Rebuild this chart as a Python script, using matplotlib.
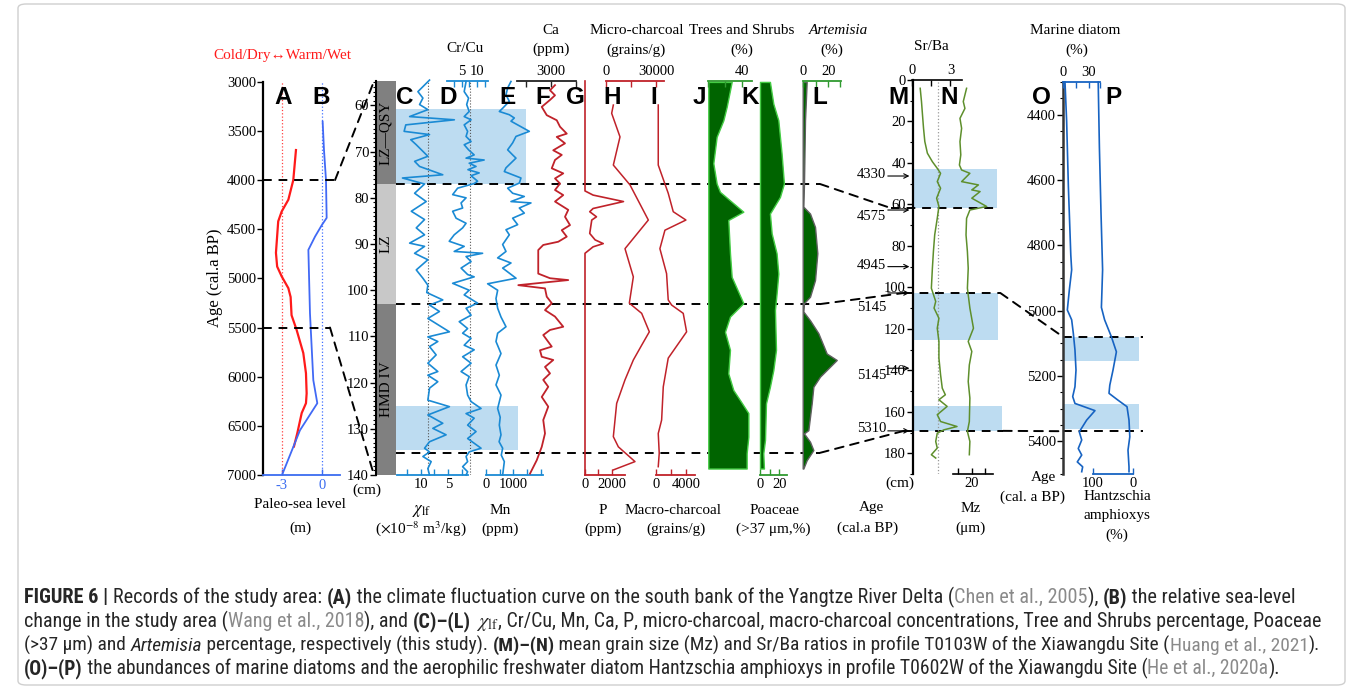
import matplotlib
matplotlib.use('Agg')
import matplotlib.pyplot as plt
from matplotlib.patches import ConnectionPatch, FancyBboxPatch
from matplotlib.transforms import blended_transform_factory as blend
from matplotlib.ticker import MultipleLocator
from matplotlib import font_manager as fm

# ------------------------------------------------------------------ data
# (A) climate curve and (B) relative sea level, age in cal a BP
climate_age = [3695, 4000, 4200, 4320, 4420, 4740, 4880, 4980, 5100, 5190, 5375,
               5525, 5760, 5965, 6170, 6270, 6370, 6575, 6710]
climate_val = [-1.93, -2.13, -2.5, -3.0, -3.26, -3.43, -3.34, -3.0, -2.5, -2.33, -2.26,
               -1.88, -1.38, -1.18, -1.13, -1.18, -1.5, -1.83, -2.08]
sealevel_age = [3407, 3695, 4000, 4385, 4460, 4575, 4710, 5355, 6035, 6270, 6545, 6985]
sealevel_val = [0.07, 0.17, 0.32, 0.37, 0.0, -0.5, -1.0, -0.88, -0.63, -0.33, -1.63, -2.93]
link_ages = [4000, 5500]

# depth column (cm) and cultural zones
zone_names = ['LZ\u2014QSY', 'LZ', 'HMD IV']
zone_top = [54.7, 77.0, 103.0]
zone_bottom = [77.0, 103.0, 140.0]
zone_colors = ['#808080', '#c8c8c8', '#808080']
cl_boundaries = [77.0, 103.0, 135.2]
ce_highlight = [(60.8, 77.0), (125.0, 134.6)]

# (C) chi_lf
chi_depth = [54.5, 57.0, 58.4, 59.8, 60.9, 62.4, 63.1, 64.2, 65.6, 66.3, 67.4, 68.5, 71.0,
             72.1, 73.2, 75.0, 75.7, 77.0, 79.0, 80.8, 82.9, 84.7, 86.5, 88.0, 89.8, 90.5,
             92.0, 93.4, 95.6, 97.4, 98.9, 100.5, 102.1, 103.2, 104.6, 106.1, 109.0, 110.1,
             111.1, 112.2, 114.0, 115.8, 117.6, 118.4, 119.8, 121.2, 123.8, 125.2, 127.0,
             128.8, 129.9, 131.3, 132.8, 134.2, 135.0, 136.0, 137.1, 138.6, 140.0]
chi_val = [8.4, 10.5, 9.6, 10.2, 8.7, 12.0, 3.9, 12.7, 13.0, 8.4, 11.8, 10.8, 8.7,
           11.1, 10.2, 6.0, 13.3, 9.3, 11.1, 9.0, 11.7, 9.3, 10.8, 9.3, 12.0, 9.3,
           11.1, 8.7, 10.8, 9.6, 8.7, 8.9, 6.0, 8.4, 6.6, 8.7, 4.8, 8.7,
           6.9, 8.4, 7.2, 8.7, 6.9, 8.7, 6.9, 8.4, 8.7, 4.8, 8.7,
           6.0, 7.8, 5.4, 8.4, 9.3, 8.4, 9.6, 8.1, 8.7, 8.4]
chi_ref = 8.6
# (D) Cr/Cu
crcu_depth = [54.8, 57.0, 58.4, 59.8, 61.3, 62.4, 63.1, 64.2, 65.6, 66.7, 67.8, 68.5, 69.6,
              70.7, 71.4, 71.8, 72.5, 73.2, 73.9, 74.6, 75.2, 76.4, 76.9, 77.9, 79.3, 80.0,
              81.1, 82.2, 82.9, 84.4, 85.5, 86.5, 88.0, 89.4, 90.5, 91.6, 92.0, 92.7, 93.8,
              95.2, 96.6, 97.1, 98.5, 100.0, 101.0, 102.8, 103.9, 105.4, 106.8, 108.3, 109.3,
              110.4, 111.9, 112.9, 114.4, 115.8, 117.6, 118.7, 120.5, 122.7, 124.1, 125.6,
              126.7, 127.7, 129.2, 130.6, 132.1, 134.2, 135.0, 136.0, 137.1, 138.2, 139.3, 140.0]
crcu_val = [6.4, 5.8, 7.2, 6.6, 7.4, 5.8, 8.0, 5.8, 6.9, 6.4, 8.0, 5.8, 7.2,
            9.0, 6.4, 12.2, 7.4, 9.6, 7.0, 10.6, 8.0, 10.1, 9.0, 3.7, 2.1, 6.4,
            4.8, 5.3, 2.1, 3.2, 6.4, 5.3, 2.6, 1.0, 5.8, 2.6, 11.7, 6.4, 8.0,
            4.8, 6.9, 9.0, 2.1, 7.4, 5.8, 10.1, 6.4, 8.0, 4.2, 6.9, 5.3,
            8.0, 5.8, 9.0, 5.3, 8.0, 4.8, 7.4, 6.4, 6.9, 8.0, 11.2,
            6.4, 9.0, 6.9, 9.6, 6.9, 11.2, 7.4, 6.4, 6.9, 5.3, 6.9, 6.4]
crcu_ref = 7.7
# (E) Mn (ppm)
mnppm_depth = [54.8, 56.2, 57.7, 59.1, 60.6, 61.3, 62.0, 62.7, 63.4, 65.6, 66.7, 68.1, 69.6,
               70.7, 71.4, 73.5, 74.3, 75.7, 76.8, 77.9, 79.0, 79.7, 80.8, 81.1, 82.2, 83.3,
               84.4, 85.8, 86.9, 88.0, 90.1, 91.6, 93.0, 94.1, 95.2, 97.4, 98.6, 100.0, 101.8,
               103.9, 105.8, 107.9, 109.3, 111.1, 113.7, 116.2, 118.4, 120.5, 122.7, 125.6,
               127.5, 129.2, 131.3, 132.8, 134.2, 135.7, 137.1, 140.0]
mnppm_val = [915, 793, 732, 854, 610, 488, 854, 1037, 915, 1586, 1098, 976, 793,
             976, 1098, 732, 671, 1281, 1220, 793, 976, 1403, 915, 1647, 1220, 1403,
             976, 1159, 732, 854, 610, 732, 427, 915, 610, 1100, 60, 427, 366,
             427, 550, 732, 427, 366, 549, 366, 488, 366, 549, 427,
             520, 488, 549, 480, 610, 560, 671, 610]
# (F) Ca (ppm)
ca_depth = [55.6, 56.7, 57.8, 58.8, 60.3, 62.1, 63.2, 64.6, 66.1, 66.8, 68.2, 69.7, 70.7,
            71.8, 73.6, 74.7, 75.8, 76.9, 78.3, 79.4, 80.8, 82.6, 84.1, 85.9, 87.0, 88.4,
            89.5, 90.2, 91.3, 96.4, 97.4, 97.8, 98.9, 99.6, 101.4, 102.8, 104.3, 105.7,
            107.9, 108.6, 109.7, 112.2, 113.0, 114.4, 115.1, 116.6, 118.0, 119.4, 120.9,
            123.1, 125.2, 128.1, 131.0, 133.9, 136.8, 139.7]
ca_val = [3160, 2960, 3160, 2960, 2630, 2830, 3230, 3360, 3630, 3230, 3560, 3090, 3430,
          3160, 3030, 3490, 3160, 3360, 3160, 3490, 3160, 3690, 3560, 3760, 3430, 3630,
          3290, 2690, 2490, 2490, 2960, 3690, 1690, 2760, 2830, 3030, 2760, 3160,
          3490, 2960, 2690, 3030, 2560, 2630, 3090, 2760, 2960, 2690, 2890,
          2630, 2890, 2690, 2760, 2630, 2430, 2160]
# (G) P (ppm)
p_depth = [54.7, 78.5, 79.4, 80.8, 82.3, 83.0, 84.1, 84.8, 87.7, 89.1, 89.9, 90.6, 92.0, 140.0]
p_val = [0, 0, 600, 2850, 600, 350, 850, 500, 350, 750, 1350, 600, 0, 0]
# (H) micro-charcoal (grains/g)
micro_depth = [59.9, 61.7, 66.8, 72.9, 77.2, 84.8, 91.0, 97.1, 102.8, 105.0, 109.0, 111.9,
               115.1, 119.4, 124.5, 131.7, 133.9, 137.1, 138.9]
micro_val = [4400, 3400, 8400, 4400, 14400, 25400, 11400, 16400, 14000, 21400, 26000, 21400,
             16400, 11400, 6400, 4400, 7400, 17400, 4400]
# (I) macro-charcoal (grains/g)
macro_depth = [59.9, 72.9, 79.0, 83.0, 84.8, 87.0, 91.0, 96.4, 102.1, 103.2, 105.0, 109.0,
               114.7, 120.9, 128.1, 131.0, 135.3, 138.2]
macro_val = [300, 300, 1630, 2300, 3990, 1190, 520, 1410, 1630, 2080, 3630, 4080,
             1630, 970, 750, 300, 430, 300]
# (J) Trees and shrubs (%)
trees_depth = [54.9, 60.3, 63.2, 66.8, 72.5, 76.9, 78.7, 83.0, 84.8, 92.0, 97.1, 102.8, 105.7,
               109.0, 112.9, 118.0, 121.6, 123.8, 126.6, 131.7, 135.3, 138.6]
trees_val = [27.5, 21.6, 17.7, 9.8, 5.9, 9.8, 13.7, 41.2, 23.5, 25.5, 27.5, 41.2, 25.5,
             19.6, 25.5, 23.5, 29.4, 37.3, 47.1, 47.1, 45.1, 45.1]
# (K) Poaceae >37 um (%)
poaceae_depth = [54.9, 59.6, 63.2, 70.4, 76.9, 79.8, 83.4, 87.7, 92.0, 96.4, 100.7, 104.3,
                 112.9, 117.3, 120.9, 124.5, 132.4, 135.3, 138.6]
poaceae_val = [10.3, 13.8, 19.0, 22.4, 24.8, 20.7, 10.3, 12.1, 17.2, 19.0, 17.2, 15.5,
               16.6, 13.8, 10.3, 6.2, 5.2, 3.4, 4.1]
# (L) Artemisia (%)
artemisia_depth = [54.9, 63.2, 76.9, 81.9, 83.4, 86.3, 92.0, 97.8, 101.4, 102.8, 104.6, 106.5,
                   109.3, 113.7, 115.1, 118.7, 120.9, 124.5, 130.3, 131.0, 132.8, 134.6,
                   136.8, 138.6]
artemisia_val = [3.1, 1.8, 1.0, 0.5, 5.7, 9.6, 11.4, 9.6, 5.7, 1.0, 0.5, 5.7,
                 12.2, 18.7, 26.5, 13.5, 8.3, 7.0, 4.4, 1.0, 5.7, 8.3, 3.1, 0.5]

# (M)-(N) profile T0103W, Xiawangdu (depth cm)
srba_depth = [4.0, 10.4, 16.9, 23.3, 29.7, 35.3, 39.4, 42.6, 45.0, 49.0, 52.2, 57.0, 61.0,
              66.7, 74.7, 82.7, 90.8, 100.4, 106.8, 110.0, 114.9, 119.7, 126.1, 134.1, 142.2,
              148.6, 151.8, 154.2, 157.4, 161.4, 164.7, 167.1, 168.7, 170.3, 174.3, 177.5,
              180.7, 182.3]
srba_val = [0.64, 0.74, 0.82, 0.90, 1.0, 1.2, 1.59, 1.97, 2.23, 1.97, 2.23, 1.92, 2.1,
            1.97, 1.77, 1.67, 1.59, 1.51, 1.85, 1.72, 2.1, 1.97, 2.1, 2.1, 2.23,
            2.36, 2.6, 2.1, 2.74, 1.97, 2.23, 3.51, 2.49, 1.97, 1.85, 1.97, 1.51, 1.85]
srba_ref = 2.0
mz_depth = [4.0, 10.4, 13.7, 18.5, 23.3, 29.7, 36.1, 41.0, 43.4, 45.0, 49.0, 50.6, 53.0,
            53.8, 57.0, 61.0, 62.7, 66.7, 74.7, 82.7, 90.8, 100.4, 110.0, 119.7, 126.1,
            130.9, 137.4, 145.4, 153.4, 164.7, 169.5, 174.3, 180.7]
mz_val = [18.2, 17.0, 17.6, 15.8, 16.4, 15.8, 16.1, 15.6, 16.4, 19.4, 16.4, 22.5, 20.1,
          23.1, 20.1, 25.5, 19.4, 18.2, 18.0, 18.5, 18.8, 18.5, 19.4, 20.7, 18.8,
          20.1, 19.2, 18.8, 19.4, 19.2, 18.5, 19.4, 19.2]
xwd_highlight = [(42.9, 61.8), (102.8, 125.3), (157.4, 169.5)]
xwd_boundaries = [61.7, 102.7, 169.2]
xwd_ages = ['4330', '4575', '4945', '5145', '5145', '5310']
xwd_age_depths = [46.3, 62.7, 90.0, 102.7, 139.0, 169.2]
xwd_label_depths = [45.5, 65.8, 89.5, 109.5, 142.5, 168.0]

# (O)-(P) profile T0602W, Xiawangdu (age cal a BP)
marine_age = [4300, 4420, 4620, 4830, 4875, 4937, 4998, 5028, 5069, 5120, 5182, 5233, 5263,
              5284, 5306, 5335, 5371, 5396, 5422, 5442, 5463, 5478, 5493]
marine_val = [2.3, 4.2, 6.2, 9.0, 10.0, 7.3, 5.0, 10.0, 11.9, 13.8, 15.0, 13.8, 11.2,
              13.8, 36.9, 27.3, 18.8, 21.6, 17.6, 21.6, 16.5, 22.7, 21.6]
hantz_age = [4300, 4500, 4700, 4875, 4990, 5028, 5080, 5126, 5182, 5228, 5253, 5274, 5294,
             5335, 5386, 5427, 5478, 5493]
hantz_val = [87, 84, 80, 76, 79, 71, 54, 41.5, 50, 58, 60, 37.5, 15,
             10, 8, 12.5, 10, 10]
op_highlight = [(5080, 5153), (5286, 5363)]
op_boundaries = [5080, 5369]

# ------------------------------------------------------------------ style
W, H = 1355, 689
plt.rcParams['font.family'] = ['Liberation Serif', 'DejaVu Serif']
plt.rcParams['mathtext.fontset'] = 'stix'
plt.rcParams['axes.unicode_minus'] = True
fig = plt.figure(figsize=(W / 100, H / 100), dpi=100)

BLUE = '#1a8ad4'
BLUE2 = '#1763c2'
RED = '#c0222a'
GREEN = '#2f9a2f'
FILL = '#006400'
FEDGE = '#44cc44'
MNG = '#5e8f2c'
RECT = '#bddcf1'
NUM = 10.5
LAB = 11
DASH = dict(color='k', lw=1.4, ls=(0, (4.5, 3.5)))


def axpx(x0, y0, x1, y1):
    ax = fig.add_axes([x0 / W, 1 - y1 / H, (x1 - x0) / W, (y1 - y0) / H])
    ax.patch.set_visible(False)
    return ax


def T(x, y, s, **kw):
    kw.setdefault('ha', 'center')
    kw.setdefault('va', 'center')
    kw.setdefault('fontsize', LAB)
    return fig.text(x / W, 1 - y / H, s, **kw)


def scale_axes(x0, x1, y0, y1, xlim, ylim, side, color, ticks, labels, lw=1.3):
    ax = axpx(x0, y0, x1, y1)
    ax.set_xlim(xlim)
    ax.set_ylim(ylim)
    for s in ax.spines:
        ax.spines[s].set_visible(s == side)
    ax.spines[side].set_color(color)
    ax.spines[side].set_linewidth(lw)
    ax.set_yticks([])
    ax.xaxis.set_ticks_position(side)
    ax.set_xticks(ticks)
    ax.set_xticklabels(labels)
    ax.tick_params(axis='x', which='both', direction='in', length=4, width=1.0,
                   color=color, labelsize=NUM, pad=2)
    return ax


def depth_axes(x0, x1, y0, y1, ylim, major, minor, lw=1.5, color='k'):
    ax = axpx(x0, y0, x1, y1)
    ax.set_ylim(ylim)
    ax.set_xlim(0, 1)
    for s in ax.spines:
        ax.spines[s].set_visible(s == 'left')
    ax.spines['left'].set_linewidth(lw)
    ax.spines['left'].set_color(color)
    ax.set_xticks([])
    ax.yaxis.set_major_locator(MultipleLocator(major))
    if minor:
        ax.yaxis.set_minor_locator(MultipleLocator(minor))
    ax.tick_params(axis='y', which='major', direction='out', length=4, width=1,
                   labelsize=NUM, pad=1)
    ax.tick_params(axis='y', which='minor', direction='out', length=2, width=0.8)
    return ax


def connect(axA, xA, yA, axB, xB, yB):
    con = ConnectionPatch(xyA=(xA, yA), xyB=(xB, yB),
                          coordsA=blend(axA.transAxes, axA.transData),
                          coordsB=blend(axB.transAxes, axB.transData),
                          shrinkA=0, shrinkB=0, **DASH)
    fig.add_artist(con)


# ------------------------------------------------------------------ frame
fig.add_artist(FancyBboxPatch((18 / W, 4 / H), 1327 / W, 681 / H,
                              boxstyle='round,pad=0,rounding_size=0.006',
                              transform=fig.transFigure, fill=False,
                              ec='#cfcfcf', lw=1.0))

# ------------------------------------------------------------------ A / B
DY0, DY1 = 81.0, 475.0
DLIM = (140.0, 54.7)

axAB = axpx(263, 81.7, 340, 475)
axAB.set_xlim(-4.4, 1.37)
axAB.set_ylim(7000, 3000)
for s in ['top', 'right']:
    axAB.spines[s].set_visible(False)
axAB.spines['left'].set_linewidth(1.6)
axAB.spines['bottom'].set_color('#3a6cf0')
axAB.spines['bottom'].set_linewidth(1.3)
axAB.yaxis.set_major_locator(MultipleLocator(500))
axAB.tick_params(axis='y', direction='out', length=4, width=1, labelsize=NUM, pad=1)
axAB.set_xticks([-3, 0])
axAB.set_xticklabels(['-3', '0'])
axAB.tick_params(axis='x', direction='in', length=4, width=1, color='#3a6cf0',
                 labelcolor='#3a6cf0', labelsize=NUM, pad=3)
axAB.axvline(-3, color='#ff4040', ls=':', lw=0.9)
axAB.axvline(0, color='#4070ff', ls=':', lw=0.9)
axAB.plot(climate_val, climate_age, color='#ff1a1a', lw=1.6)
axAB.plot(sealevel_val, sealevel_age, color='#4169f5', lw=1.3)
axAB.plot([-4.4, 1.0], [link_ages[0]] * 2, clip_on=False, **DASH)
axAB.plot([-4.4, 0.62], [link_ages[1]] * 2, clip_on=False, **DASH)

T(282, 55, 'Cold/Dry\u2194Warm/Wet', color='#ff1a1a')
T(215, 278, 'Age (cal.a BP)', rotation=90, fontsize=12)
T(300, 504, 'Paleo-sea level')
T(300, 528, '(m)')

# ------------------------------------------------------------------ depth column
axD = depth_axes(376, 396, DY0, DY1, DLIM, 10, 1, lw=1.5)
tD = blend(axD.transAxes, axD.transData)
for name, top, bot, col in zip(zone_names, zone_top, zone_bottom, zone_colors):
    axD.axhspan(top, bot, color=col, lw=0)
    axD.text(0.5, (top + bot) / 2, name, rotation=90, ha='center', va='center',
             transform=tD, fontsize=LAB)
T(367, 490, '(cm)')
connect(axAB, (1.0 + 4.4) / 5.77, link_ages[0], axD, -0.15, 55.3)
connect(axAB, (0.62 + 4.4) / 5.77, link_ages[1], axD, -0.15, 139.3)

# background axes for C-L (highlights and boundary lines)
axCL = axpx(396, DY0, 820, DY1)
axCL.set_xlim(0, 1)
axCL.set_ylim(DLIM)
axCL.axis('off')
axCL.axhspan(ce_highlight[0][0], ce_highlight[0][1], xmin=0.0, xmax=0.307, color=RECT, lw=0)
axCL.axhspan(ce_highlight[1][0], ce_highlight[1][1], xmin=0.0, xmax=0.288, color=RECT, lw=0)
for d in cl_boundaries:
    axCL.plot([0, 1], [d, d], clip_on=False, **DASH)

# C chi_lf
axC = scale_axes(397, 468, DY0, DY1, (14.29, 1.43), DLIM, 'bottom', BLUE,
                 [12.5, 10, 7.5, 5, 2.5], ['', '10', '', '5', ''])
axC.axvline(chi_ref, color='#555555', ls=':', lw=0.8)
axC.plot(chi_val, chi_depth, color=BLUE, lw=1.2, clip_on=False)
# D Cr/Cu
axDc = scale_axes(447, 488, DY0, DY1, (0.29, 13.43), DLIM, 'top', BLUE,
                  [2.5, 5, 7.5, 10, 12.5], ['', '5', '', '10', ''])
axDc.axvline(crcu_ref, color='#555555', ls=':', lw=0.8)
axDc.plot(crcu_val, crcu_depth, color=BLUE, lw=1.2, clip_on=False)
# E Mn
axE = scale_axes(486, 543, DY0, DY1, (0, 2088), DLIM, 'bottom', BLUE,
                 [0, 500, 1000, 1500, 2000], ['0', '', '1000', '', ''])
axE.plot(mnppm_val, mnppm_depth, color=BLUE, lw=1.2, clip_on=False)
# F Ca
axF = scale_axes(517, 576, DY0, DY1, (1640, 4000), DLIM, 'top', '#222222',
                 [2000, 3000, 4000], ['', '3000', ''])
axF.plot(ca_val, ca_depth, color=RED, lw=1.3, clip_on=False)
# G P
axG = scale_axes(585, 625, DY0, DY1, (0, 2963), DLIM, 'bottom', RED,
                 [0, 1000, 2000], ['0', '', '2000'])
axG.plot(p_val, p_depth, color=RED, lw=1.2, clip_on=False)
# H micro-charcoal
axH = scale_axes(606, 664, DY0, DY1, (0, 34800), DLIM, 'top', RED,
                 [0, 15000, 30000], ['0', '', '30000'])
axH.plot(micro_val, micro_depth, color=RED, lw=1.1, clip_on=False)
# I macro-charcoal
axI = scale_axes(656, 695, DY0, DY1, (0, 5200), DLIM, 'bottom', RED,
                 [0, 2000, 4000], ['0', '', '4000'])
axI.plot(macro_val, macro_depth, color=RED, lw=1.1, clip_on=False)
# J trees and shrubs
axJ = scale_axes(708.3, 752, DY0, DY1, (0, 51.4), DLIM, 'top', GREEN,
                 [0, 20, 40], ['', '', '40'])
axJ.fill_betweenx(trees_depth, 0, trees_val, facecolor=FILL, edgecolor=FEDGE, lw=1.0,
                  clip_on=False)
# K Poaceae
axK = scale_axes(760, 786.7, DY0, DY1, (0, 27.7), DLIM, 'bottom', GREEN,
                 [0, 10, 20], ['0', '', '20'])
axK.fill_betweenx(poaceae_depth, 0, poaceae_val, facecolor=FILL, edgecolor=FEDGE, lw=1.0,
                  clip_on=False)
# L Artemisia
axL = scale_axes(802.7, 840.7, DY0, DY1, (0, 29.6), DLIM, 'top', GREEN,
                 [0, 10, 20, 29], ['0', '', '20', ''])
axL.fill_betweenx(artemisia_depth, 0, artemisia_val, facecolor=FILL, edgecolor='#606060',
                  lw=1.0, clip_on=False)

# ------------------------------------------------------------------ M / N
axMN = depth_axes(913, 1003, 80, 474, (190, 0), 20, 10, lw=1.6)
tMN = blend(axMN.transAxes, axMN.transData)
for (a, b), xm in zip(xwd_highlight, [0.93, 0.945, 0.985]):
    axMN.axhspan(a, b, xmin=0, xmax=xm, color=RECT, lw=0)
axMN.plot([-0.25, 0.93], [xwd_boundaries[0]] * 2, transform=tMN, clip_on=False, **DASH)
axMN.plot([-0.1, 0.97], [xwd_boundaries[1]] * 2, transform=tMN, clip_on=False, **DASH)
axMN.plot([-0.1, 1.0], [xwd_boundaries[2]] * 2, transform=tMN, clip_on=False, **DASH)
for lab, d_arrow, d_lab in zip(xwd_ages, xwd_age_depths, xwd_label_depths):
    axMN.annotate('', xy=(-0.04, d_arrow), xytext=(-0.28, d_arrow),
                  xycoords=tMN, textcoords=tMN,
                  arrowprops=dict(arrowstyle='->', lw=0.8, color='k',
                                  shrinkA=0, shrinkB=0, mutation_scale=8))
    axMN.text(-0.46, d_lab, lab, transform=tMN, ha='center', va='center', fontsize=NUM)

connect(axCL, 1.0, cl_boundaries[0], axMN, -0.25, xwd_boundaries[0])
connect(axCL, 1.0, cl_boundaries[1], axMN, -0.1, xwd_boundaries[1])
connect(axCL, 1.0, cl_boundaries[2], axMN, -0.1, xwd_boundaries[2])

axM = scale_axes(912, 962, 80, 474, (0, 3.9), (190, 0), 'top', 'k',
                 [0, 1.5, 3], ['0', '', '3'], lw=1.2)
axM.axvline(srba_ref, color='#999999', ls=':', lw=0.9)
axM.plot(srba_val, srba_depth, color=MNG, lw=1.1, clip_on=False)
axN = scale_axes(953, 993, 80, 474, (13.27, 27.8), (190, 0), 'bottom', 'k',
                 [15, 20, 25], ['', '20', ''], lw=1.2)
axN.plot(mz_val, mz_depth, color=MNG, lw=1.1, clip_on=False)

T(931, 47, 'Sr/Ba')
T(900, 483, '(cm)')
T(871, 508, 'Age')
T(868, 528, '(cal.a BP)')
T(971, 508, 'Mz')
T(971, 528, '(\u03bcm)')

# ------------------------------------------------------------------ O / P
axOP = depth_axes(1063, 1139, 82, 474, (5500, 4300), 200, 50, lw=1.8, color='#333333')
tOP = blend(axOP.transAxes, axOP.transData)
for a, b in op_highlight:
    axOP.axhspan(a, b, xmin=0, xmax=1.0, color=RECT, lw=0)
for d in op_boundaries:
    axOP.plot([0, 1.05], [d, d], transform=tOP, clip_on=False, **DASH)
connect(axMN, 0.97, xwd_boundaries[1], axOP, 0.0, op_boundaries[0])
connect(axMN, 1.0, xwd_boundaries[2], axOP, 0.0, op_boundaries[1])

axO = scale_axes(1063, 1100, 82, 474, (0, 42.7), (5500, 4300), 'top', BLUE2,
                 [0, 15, 30, 42.7], ['0', '', '30', ''])
axO.plot(marine_val, marine_age, color=BLUE2, lw=1.2, clip_on=False)
axP = scale_axes(1093, 1133, 82, 474, (100, 0), (5500, 4300), 'bottom', BLUE2,
                 [100, 0], ['100', '0'])
axP.plot(hantz_val, hantz_age, color=BLUE2, lw=1.2, clip_on=False)

T(1075, 31, 'Marine diatom')
T(1077, 50, '(%)')
T(1043, 478, 'Age')
T(1032, 497, '(cal. a BP)')
T(1117, 497, 'Hantzschia')
T(1117, 516, 'amphioxys')
T(1117, 535, '(%)')

# ------------------------------------------------------------------ C-L texts
T(465, 48, 'Cr/Cu')
T(551, 30, 'Ca')
T(551, 49, '(ppm)')
T(637, 31, 'Micro-charcoal')
T(636, 50, '(grains/g)')
T(742, 31, 'Trees and Shrubs')
T(742, 50, '(%)')
T(838, 31, 'Artemisia', style='italic')
T(832, 50, '(%)')
T(422, 511, r'$\chi_{\rm lf}$', fontsize=12)
T(421, 529, r'($\times$10$^{-8}$ m$^{3}$/kg)')
T(500, 511, 'Mn')
T(500, 529, '(ppm)')
T(603, 511, 'P')
T(603, 529, '(ppm)')
T(673, 511, 'Macro-charcoal')
T(676, 529, '(grains/g)')
T(775, 510, 'Poaceae')
T(773, 529, '(>37 \u03bcm,%)')

# panel letters
letters = ['A', 'B', 'C', 'D', 'E', 'F', 'G', 'H', 'I', 'J', 'K', 'L', 'M', 'N', 'O', 'P']
letter_x = [283, 321, 405, 448, 508, 543, 575, 612, 654, 699, 750, 820, 898, 949, 1041, 1113]
for s, x in zip(letters, letter_x):
    T(x, 98, s, fontsize=17.5, fontweight='bold', family=['Liberation Sans', 'DejaVu Sans'])

# ------------------------------------------------------------------ caption


def has_font(name):
    try:
        fm.findfont(fm.FontProperties(family=name), fallback_to_default=False)
        return True
    except Exception:
        return False


cap_font = next((f for f in ['Liberation Sans Narrow', 'Roboto Condensed', 'Liberation Sans']
                 if has_font(f)), 'DejaVu Sans')

caption = [
    [("FIGURE 6 | ", 'b'), ("Records of the study area: ", 'n'), ("(A)", 'b'),
     (" the climate fluctuation curve on the south bank of the Yangtze River Delta (", 'n'),
     ("Chen et al., 2005", 'g'), ("), ", 'n'), ("(B)", 'b'), (" the relative sea-level", 'n')],
    [("change in the study area (", 'n'), ("Wang et al., 2018", 'g'), ("), and ", 'n'),
     ("(C)\u2013(L)", 'b'), (" ", 'n'), (r"$\chi_{\rm lf}$", 'n'),
     (", Cr/Cu, Mn, Ca, P, micro-charcoal, macro-charcoal concentrations, Tree and Shrubs "
      "percentage, Poaceae", 'n')],
    [("(>37 \u03bcm) and ", 'n'), ("Artemisia", 'i'),
     (" percentage, respectively (this study). ", 'n'), ("(M)\u2013(N)", 'b'),
     (" mean grain size (Mz) and Sr/Ba ratios in profile T0103W of the Xiawangdu Site (", 'n'),
     ("Huang et al., 2021", 'g'), (").", 'n')],
    [("(O)\u2013(P)", 'b'),
     (" the abundances of marine diatoms and the aerophilic freshwater diatom Hantzschia "
      "amphioxys in profile T0602W of the Xiawangdu Site (", 'n'),
     ("He et al., 2020a", 'g'), (").", 'n')],
]
cap_right = [1290, 1322, 1318, 1283]
cap_base = [603, 627, 651, 674]
CAP_X = 24

R = fig.canvas.get_renderer()


def style_kw(st, size):
    kw = dict(fontsize=size, family=[cap_font, 'DejaVu Sans'], color='#262626')
    if st == 'b':
        kw['fontweight'] = 'bold'
    if st == 'i':
        kw['style'] = 'italic'
    if st == 'g':
        kw['color'] = '#8a8a8a'
    return kw


def text_w(s, kw):
    t = fig.text(0, 0, s, **kw)
    w = t.get_window_extent(R).width
    t.remove()
    return w


def piece_w(s, kw):
    if '$' in s:
        return text_w(s, kw)
    return text_w('|' + s + '|', kw) - text_w('||', kw)


base = 12.0
for line, xr, yb in zip(caption, cap_right, cap_base):
    wsum = sum(piece_w(s, style_kw(st, base)) for s, st in line)
    size = base * (xr - CAP_X) / wsum
    x = CAP_X
    for s, st in line:
        kw = style_kw(st, size)
        fig.text(x / W, 1 - yb / H, s, ha='left', va='baseline', **kw)
        x += piece_w(s, kw)

fig.savefig('out.png', dpi=100)
